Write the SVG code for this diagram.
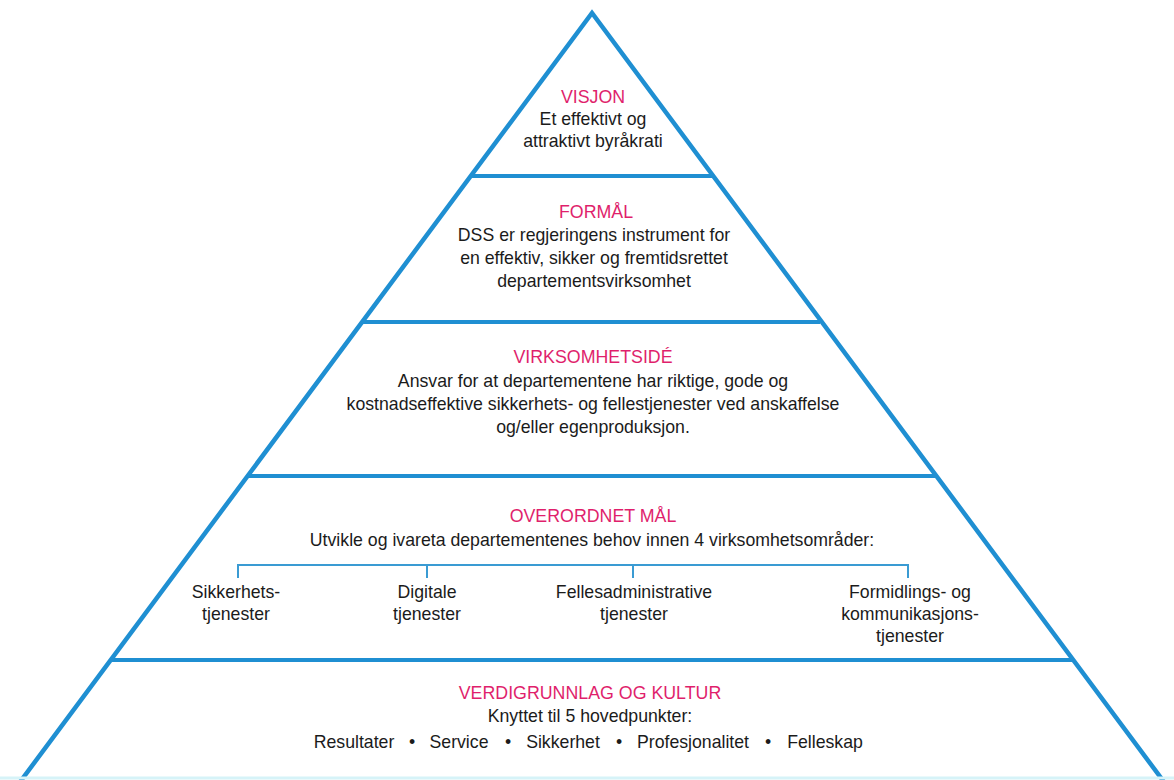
<svg xmlns="http://www.w3.org/2000/svg" width="1174" height="780" viewBox="0 0 1174 780">
  <style>
    .edge { fill: none; stroke: #1f8fd2; stroke-width: 4.5; stroke-linejoin: miter; }
    .tier { fill: none; stroke: #1f8fd2; stroke-width: 4; }
    .bracket { fill: none; stroke: #3a9bd3; stroke-width: 2; }
    .head { font-family: "Liberation Sans", Arial, sans-serif; font-size: 17.8px; fill: #e01f6c; text-anchor: middle; }
    .body { font-family: "Liberation Sans", Arial, sans-serif; font-size: 17.7px; fill: #1b1b1b; text-anchor: middle; }
  </style>

  <rect x="0" y="0" width="1174" height="780" fill="#ffffff"/>

  <!-- pyramid outline and tier dividers -->
  <g id="connectors">
    <polyline class="edge" points="17,786 592,13 1167,786"/>
    <line class="tier" x1="472" y1="176" x2="713" y2="176"/>
    <line class="tier" x1="363" y1="322" x2="820" y2="322"/>
    <line class="tier" x1="248" y1="476" x2="936" y2="476"/>
    <line class="tier" x1="110" y1="660" x2="1072" y2="660"/>
    <line x1="0" y1="778" x2="1174" y2="778" stroke="#d6f3f8" stroke-width="3"/>
    <!-- bracket for the four areas -->
    <path class="bracket" d="M238,578 V565 H908 V578 M427,565 V578 M633,565 V578"/>
  </g>

  <g id="visjon">
    <text class="head" x="593" y="103">VISJON</text>
    <text class="body" x="593" y="125">Et effektivt og</text>
    <text class="body" x="593" y="147">attraktivt byråkrati</text>
  </g>

  <g id="formaal">
    <text class="head" x="596" y="218">FORMÅL</text>
    <text class="body" x="594" y="241">DSS er regjeringens instrument for</text>
    <text class="body" x="594" y="264">en effektiv, sikker og fremtidsrettet</text>
    <text class="body" x="594" y="287">departementsvirksomhet</text>
  </g>

  <g id="virksomhetside">
    <text class="head" x="593" y="363">VIRKSOMHETSIDÉ</text>
    <text class="body" x="593" y="387">Ansvar for at departementene har riktige, gode og</text>
    <text class="body" x="593" y="410">kostnadseffektive sikkerhets- og fellestjenester ved anskaffelse</text>
    <text class="body" x="593" y="433">og/eller egenproduksjon.</text>
  </g>

  <g id="overordnet-maal">
    <text class="head" x="593" y="522">OVERORDNET MÅL</text>
    <text class="body" x="592" y="546">Utvikle og ivareta departementenes behov innen 4 virksomhetsområder:</text>
  </g>

  <g id="sikkerhetstjenester">
    <text class="body" x="236" y="598">Sikkerhets-</text>
    <text class="body" x="236" y="620">tjenester</text>
  </g>

  <g id="digitale-tjenester">
    <text class="body" x="427" y="598">Digitale</text>
    <text class="body" x="427" y="620">tjenester</text>
  </g>

  <g id="fellesadministrative-tjenester">
    <text class="body" x="634" y="598">Fellesadministrative</text>
    <text class="body" x="634" y="620">tjenester</text>
  </g>

  <g id="formidlings-tjenester">
    <text class="body" x="910" y="598">Formidlings- og</text>
    <text class="body" x="910" y="620">kommunikasjons-</text>
    <text class="body" x="910" y="642">tjenester</text>
  </g>

  <g id="verdigrunnlag">
    <text class="head" x="590" y="699">VERDIGRUNNLAG OG KULTUR</text>
    <text class="body" x="590" y="722">Knyttet til 5 hovedpunkter:</text>
    <text class="body" x="354" y="748">Resultater</text>
    <text class="body" x="412" y="748">•</text>
    <text class="body" x="459" y="748">Service</text>
    <text class="body" x="508" y="748">•</text>
    <text class="body" x="563" y="748">Sikkerhet</text>
    <text class="body" x="619" y="748">•</text>
    <text class="body" x="693" y="748">Profesjonalitet</text>
    <text class="body" x="768" y="748">•</text>
    <text class="body" x="825" y="748">Felleskap</text>
  </g>
</svg>
